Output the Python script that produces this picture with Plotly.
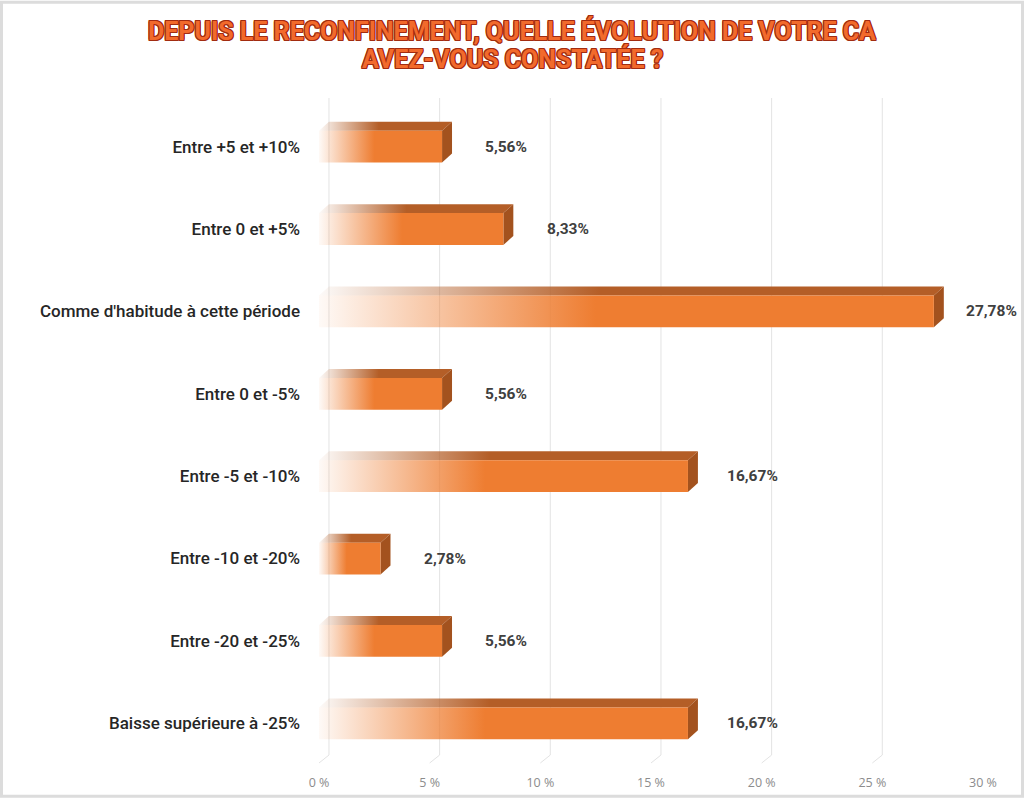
import plotly.graph_objects as go

categories = ["Entre +5 et +10%", "Entre 0 et +5%", "Comme d'habitude à cette période",
              "Entre 0 et -5%", "Entre -5 et -10%", "Entre -10 et -20%",
              "Entre -20 et -25%", "Baisse supérieure à -25%"]
values = [5.56, 8.33, 27.78, 5.56, 16.67, 2.78, 5.56, 16.67]
value_labels = ["5,56%", "8,33%", "27,78%", "5,56%", "16,67%", "2,78%", "5,56%", "16,67%"]
tick_vals = [0, 5, 10, 15, 20, 25, 30]
tick_text = ["0 %", "5 %", "10 %", "15 %", "20 %", "25 %", "30 %"]

title_lines = ["DEPUIS LE RECONFINEMENT, QUELLE ÉVOLUTION DE VOTRE CA",
               "AVEZ-VOUS CONSTATÉE ?"]

ORANGE = "#EE7D31"
TOP = "#B45E27"
SIDE = "#A3521E"

h = 0.193   # half height of front face (category units)
dx = 0.45   # depth in x (data units)
dy = 0.109  # depth in y (category units)

# plot area geometry in pixels
L, R, T, B = 319, 983, 98, 768
W_, H_ = 1024, 803
XMAX = 30
PX_PER_UNIT = (R - L) / XMAX


def px_x(p):
    return (p - L) / (R - L)


def px_y(p):
    return (B - p) / (B - T)


fig = go.Figure()

for i, v in enumerate(values):
    y0, y1 = i - h, i + h
    # top face
    fig.add_trace(go.Scatter(
        x=[0, v, v + dx, dx, 0], y=[y0, y0, y0 - dy, y0 - dy, y0],
        mode="lines", line=dict(width=0), fill="toself",
        fillgradient=dict(type="horizontal",
                          colorscale=[[0, "rgba(180,94,39,0.03)"], [0.45, TOP], [1, TOP]]),
        hoverinfo="skip", showlegend=False))
    # side face
    fig.add_trace(go.Scatter(
        x=[v, v + dx, v + dx, v, v], y=[y0, y0 - dy, y1 - dy, y1, y0],
        mode="lines", line=dict(width=0), fill="toself", fillcolor=SIDE,
        hoverinfo="skip", showlegend=False))
    # front face
    fig.add_trace(go.Scatter(
        x=[0, v, v, 0, 0], y=[y0, y0, y1, y1, y0],
        mode="lines", line=dict(width=0), fill="toself",
        fillgradient=dict(type="horizontal",
                          colorscale=[[0, "rgba(238,125,49,0.04)"], [0.45, ORANGE], [1, ORANGE]]),
        hoverinfo="skip", showlegend=False))
    label_pos = min(v + 2.9, 30.4)
    fig.add_annotation(x=v, y=i, text=value_labels[i], showarrow=False,
                       xanchor="center", yanchor="middle",
                       xshift=(label_pos - v) * PX_PER_UNIT,
                       font=dict(family="Roboto", size=15.5, color="#404040", weight="bold"))

outline = "#A22C10"
shadow = ", ".join(f"{a}px {b}px 0 {outline}" for a, b in
                   [(1, 1), (-1, -1), (1, -1), (-1, 1), (1, 0), (-1, 0), (0, 1), (0, -1)])
for line, py in zip(title_lines, [30, 58.5]):
    fig.add_annotation(xref="paper", yref="paper", x=px_x(512), y=px_y(py), text=line,
                       showarrow=False, xanchor="center", yanchor="middle",
                       font=dict(family="Roboto", size=25, color="#F26A2C", weight="bold",
                                 shadow=shadow))

shapes = []
floor = px_y(760)
for t in tick_vals:
    shapes.append(dict(type="line", xref="x", yref="paper", x0=t + dx, x1=t + dx,
                       y0=floor, y1=1, line=dict(color="#E3E3E3", width=1), layer="below"))
    shapes.append(dict(type="line", xref="x", yref="paper", x0=t + dx, x1=t,
                       y0=floor, y1=0, line=dict(color="#E3E3E3", width=1), layer="below"))
shapes.append(dict(type="rect", xref="paper", yref="paper", x0=px_x(1.5), x1=px_x(1022.5),
                   y0=px_y(801.5), y1=px_y(1.5), line=dict(color="#DCDCDC", width=3)))

fig.update_layout(
    width=W_, height=H_,
    margin=dict(l=L, r=W_ - R, t=T, b=H_ - B),
    paper_bgcolor="white", plot_bgcolor="white",
    xaxis=dict(range=[0, XMAX], tickvals=tick_vals, ticktext=tick_text, showgrid=False,
               zeroline=False, showline=False, ticks="", fixedrange=True,
               ticklabelstandoff=10,
               tickfont=dict(family="Open Sans", size=12.5, color="#8C8C8C")),
    yaxis=dict(range=[7 + (B - 728) / 83, -(147 - T) / 83],
               tickvals=list(range(len(categories))), ticktext=categories,
               showgrid=False, zeroline=False, showline=False, ticks="",
               ticklabelstandoff=18,
               tickfont=dict(family="Roboto", size=17, color="#262626", weight=500)),
    shapes=shapes,
)

fig.write_html("out.html")
